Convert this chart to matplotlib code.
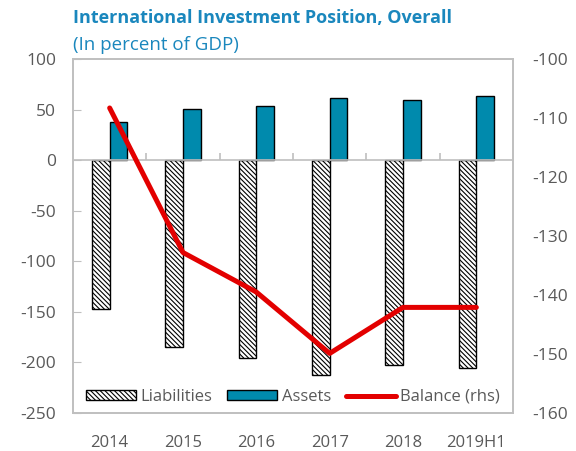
import numpy as np
import matplotlib.pyplot as plt
import matplotlib as mpl

plt.rcParams['font.family'] = ['Open Sans', 'DejaVu Sans']
plt.rcParams['axes.unicode_minus'] = False
mpl.rcParams['hatch.linewidth'] = 0.8

years = ["2014", "2015", "2016", "2017", "2018", "2019H1"]
liabilities = [-147, -185, -196, -212, -203, -206]
assets = [38, 50.5, 54, 61.5, 59, 63]
balance = [-108.3, -132.8, -139.5, -149.9, -142.1, -142.1]

teal = "#008aad"
title_col = "#1a87bd"
grey = "#bfbfbf"
txt = "#595959"

fig = plt.figure(figsize=(5.76, 4.51), dpi=100)
ax = fig.add_axes([73 / 576, 1 - 413 / 451, 440 / 576, 354 / 451])
ax2 = ax.twinx()

x = np.arange(len(years))
w = 0.24
b1 = ax.bar(x - w / 2, liabilities, w, color="white", edgecolor="black",
            hatch="\\" * 7, linewidth=1.0, label="Liabilities")
b2 = ax.bar(x + w / 2, assets, w, color=teal, edgecolor="black",
            linewidth=1.0, label="Assets")
ax.axhline(0, color=grey, lw=1.2, zorder=1)
ax.vlines(x[:-1] + 0.5, 0, 7, color=grey, lw=1.2, zorder=1)

ln, = ax2.plot(x, balance, color="#e30000", lw=3.6, solid_capstyle="round",
               label="Balance (rhs)")

ax.set_xlim(-0.5, len(years) - 0.5)
ax.set_ylim(-250, 100)
ax.set_yticks(range(-250, 101, 50))
ax2.set_ylim(-160, -100)
ax2.set_yticks(range(-160, -99, 10))

ax.set_xticks(x)
ax.set_xticklabels(years)
ax.tick_params(axis="x", length=0, pad=16, labelsize=12, labelcolor=txt)
ax.tick_params(axis="y", direction="in", length=6, color=grey, pad=12,
               labelsize=12.5, labelcolor=txt)
ax2.tick_params(axis="y", length=0, pad=14, labelsize=12.5, labelcolor=txt)

for a in (ax, ax2):
    for s in a.spines.values():
        s.set_color(grey)
        s.set_linewidth(1.2)

ax2.legend([b1, b2, ln], ["Liabilities", "Assets", "Balance (rhs)"],
           loc="lower center", bbox_to_anchor=(0.5, -0.01), ncol=3,
           frameon=False, fontsize=12, labelcolor=txt, handlelength=3.0,
           handleheight=0.5, handletextpad=0.25, columnspacing=0.9,
           borderaxespad=0.3)

fig.text(73 / 576, 1 - 18 / 451, "International Investment Position, Overall",
         color=title_col, fontsize=13, fontweight="bold", va="center")
fig.text(73 / 576, 1 - 45 / 451, "(In percent of GDP)", color=title_col,
         fontsize=13.5, va="center")

fig.savefig("out.png", dpi=100)
